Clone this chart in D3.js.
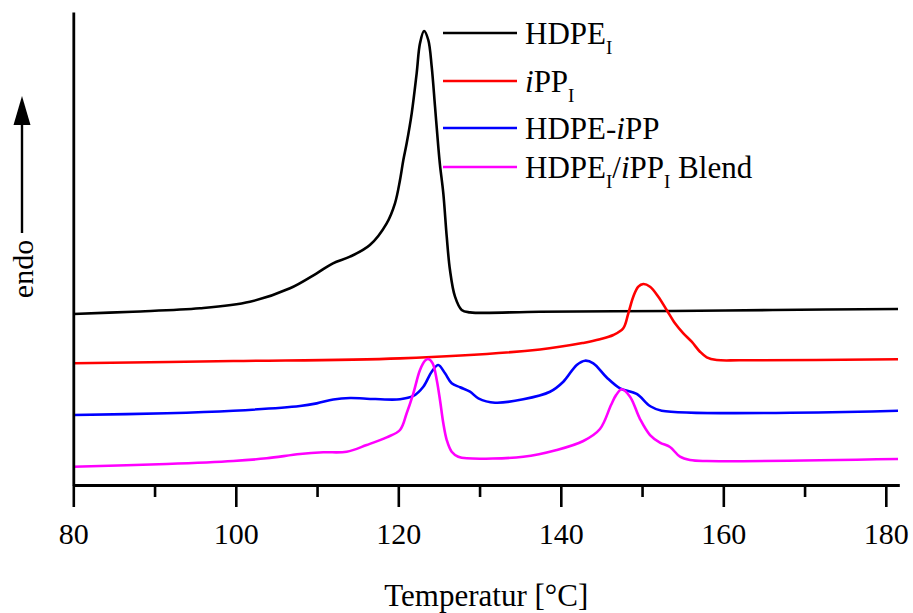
<!DOCTYPE html>
<html>
<head>
<meta charset="utf-8">
<script src="https://cdn.jsdelivr.net/npm/d3@7"></script>
<style>
  html, body { margin: 0; padding: 0; background: #fff; }
  svg { display: block; }
  svg text, svg tspan { font-family: "Liberation Serif", "Times New Roman", serif; fill: #000; }
</style>
</head>
<body>
<svg id="chart" width="913" height="613"></svg>
<script>
// DSC heating traces: temperature [°C] vs. endothermic heat flow (arbitrary, offset units)
const hdpeT = [80, 87.35, 95.59, 101.74, 106.67, 109.96, 111.96, 114.05, 116.5, 118.57, 119.59, 120.21, 120.62, 121.03, 121.65, 122.26, 122.67, 123.17, 123.69, 124.11, 124.52, 124.92, 125.13, 125.54, 125.96, 126.36, 126.98, 127.8, 128.82, 137.4, 153.8, 166.1, 181.5];
const hdpeV = [36.15, 36.64, 37.36, 38.75, 41.59, 44.76, 46.87, 48.27, 50.74, 55.33, 59.56, 64.48, 68.71, 72.24, 78.58, 87.04, 93.38, 95.98, 94.08, 88.44, 79.98, 71.52, 67.65, 61.67, 52.49, 45.45, 39.81, 37.0, 36.5, 36.64, 36.8, 37.0, 37.2];

const ippT = [80, 99.69, 120.21, 137.44, 142.77, 144.82, 146.46, 147.69, 148.31, 148.92, 149.54, 150.15, 150.98, 152.0, 153.03, 154.05, 155.08, 156.11, 157.13, 157.96, 159.19, 162.06, 181.5];
const ippV = [25.73, 26.2, 26.78, 28.65, 30.04, 30.8, 31.71, 33.13, 36.3, 39.81, 41.92, 42.49, 41.92, 39.81, 37.0, 34.19, 32.07, 30.3, 28.18, 27.0, 26.43, 26.36, 26.57];

const copoT = [80, 91.5, 99.69, 107.9, 109.96, 112.0, 114.06, 116.11, 120.21, 121.85, 123.08, 124.11, 124.92, 125.75, 126.57, 127.6, 128.82, 129.85, 131.9, 135.38, 138.67, 140.31, 141.96, 142.98, 144.0, 145.65, 147.29, 149.34, 150.98, 152.42, 181.5];
const copoV = [14.8, 15.16, 15.7, 16.7, 17.26, 18.08, 18.39, 18.25, 18.12, 18.82, 20.78, 23.95, 25.37, 23.62, 21.5, 20.66, 19.72, 18.33, 17.4, 18.12, 19.72, 21.84, 25.37, 26.28, 25.73, 22.73, 20.44, 19.24, 16.7, 15.71, 15.71];

const blendT = [80, 91.5, 99.69, 103.8, 107.9, 110.77, 113.65, 116.11, 118.57, 120.21, 121.03, 121.85, 122.67, 123.29, 123.69, 124.23, 124.73, 125.13, 125.54, 125.96, 126.57, 127.38, 128.42, 135.38, 139.5, 142.77, 144.82, 146.18, 146.8, 147.5, 148.52, 149.75, 150.98, 152.2, 153.44, 154.67, 155.9, 157.96, 181.5];
const blendV = [3.87, 4.44, 5.07, 5.64, 6.55, 6.91, 7.04, 8.46, 10.08, 11.63, 15.16, 19.39, 24.31, 26.28, 26.64, 25.73, 22.2, 17.97, 13.04, 9.51, 7.04, 5.98, 5.64, 5.98, 7.4, 9.3, 11.84, 16.91, 19.0, 20.23, 18.67, 13.95, 10.57, 8.98, 8.03, 5.98, 5.29, 5.07, 5.5];

const seriesNames = ["HDPE_I", "iPP_I", "HDPE-iPP", "HDPE_I/iPP_I Blend"];
const seriesColors = ["#000000", "#ff0000", "#0000ff", "#ff00ff"];
const majorTicks = [80, 100, 120, 140, 160, 180];
const minorTicks = [90, 110, 130, 150, 170];
const xTitle = "Temperatur [°C]";
const yTitle = "endo";

const series = [
  { T: hdpeT, V: hdpeV },
  { T: ippT, V: ippV },
  { T: copoT, V: copoV },
  { T: blendT, V: blendV }
];

const serif = "Liberation Serif";
const svg = d3.select("#chart")
  .attr("font-family", serif);
const plotLeft = 73.3, plotRight = 899.3, plotTop = 12, plotBottom = 485;

const x = d3.scaleLinear().domain([80, 181.66]).range([plotLeft, plotRight]);
const y = d3.scaleLinear().domain([0, 100]).range([plotBottom, plotTop]);

// traces
const line = d3.line()
  .x(d => x(d[0]))
  .y(d => y(d[1]))
  .curve(d3.curveCatmullRom.alpha(0.5));

series.forEach((s, i) => {
  const pts = s.T.map((t, k) => [t, s.V[k]]);
  svg.append("path")
    .datum(pts)
    .attr("fill", "none")
    .attr("stroke", seriesColors[i])
    .attr("stroke-width", 2.6)
    .attr("stroke-linejoin", "round")
    .attr("d", line);
});

// bottom axis: labelled major ticks and unlabelled minor ticks
const xAxis = d3.axisBottom(x).tickValues(majorTicks).tickSize(22).tickSizeOuter(0).tickPadding(16)
  .tickFormat(d3.format("d"));
const gx = svg.append("g").attr("transform", `translate(0,${plotBottom})`).call(xAxis)
  .attr("font-family", serif)
  .attr("font-size", 30);
gx.select(".domain").attr("stroke", "#000").attr("stroke-width", 2.8);
gx.selectAll(".tick line").attr("stroke", "#000").attr("stroke-width", 2.6);
gx.selectAll(".tick text")
  .attr("font-family", serif)
  .style("font-family", serif)
  .style("font-size", "30px")
  .style("fill", "#000");

const gxm = svg.append("g").attr("transform", `translate(0,${plotBottom})`)
  .call(d3.axisBottom(x).tickValues(minorTicks).tickSize(12).tickSizeOuter(0).tickFormat(""));
gxm.select(".domain").remove();
gxm.selectAll(".tick line").attr("stroke", "#000").attr("stroke-width", 2.6);

// left axis: plain line, no ticks
const gy = svg.append("g").attr("transform", `translate(${plotLeft},0)`)
  .call(d3.axisLeft(y).tickValues([]).tickSizeOuter(0));
gy.select(".domain").attr("stroke", "#000").attr("stroke-width", 2.8);

// x-axis title
svg.append("text")
  .attr("x", (plotLeft + plotRight) / 2)
  .attr("y", 606)
  .attr("text-anchor", "middle")
  .style("font-size", "31px")
  .text(xTitle);

// y-axis title with upward arrow
svg.append("text")
  .attr("transform", "translate(33,269) rotate(-90)")
  .attr("text-anchor", "middle")
  .style("font-size", "30px")
  .text(yTitle);
svg.append("line")
  .attr("x1", 22).attr("x2", 22)
  .attr("y1", 233).attr("y2", 120)
  .attr("stroke", "#000").attr("stroke-width", 2.4);
svg.append("path")
  .attr("d", "M22,96 L30.5,125 L13.5,125 Z")
  .attr("fill", "#000");

// legend
const legendY = [33, 81, 128, 167];
const legend = svg.append("g");
function addLabel(g, parts) {
  const t = g.append("text").style("font-size", "31px").style("font-family", serif);
  parts.forEach(p => {
    const ts = t.append("tspan").text(p.s);
    if (p.it) ts.style("font-style", "italic");
    if (p.sub) ts.style("font-size", "19px").attr("dy", 10);
    if (p.up) ts.attr("dy", -10);
  });
  return t;
}
const labelParts = [
  [{ s: "HDPE" }, { s: "I", sub: true }],
  [{ s: "i", it: true }, { s: "PP" }, { s: "I", sub: true }],
  [{ s: "HDPE-" }, { s: "i", it: true }, { s: "PP" }],
  [{ s: "HDPE" }, { s: "I", sub: true }, { s: "/", up: true }, { s: "i", it: true }, { s: "PP" }, { s: "I", sub: true }, { s: " Blend", up: true }]
];
seriesNames.forEach((name, i) => {
  const g = legend.append("g").attr("transform", `translate(0,${legendY[i]})`);
  g.append("line")
    .attr("x1", 443).attr("x2", 517)
    .attr("y1", 0).attr("y2", 0)
    .attr("stroke", seriesColors[i]).attr("stroke-width", 2.6);
  addLabel(g, labelParts[i]).attr("x", 525).attr("y", 11);
});
</script>
</body>
</html>
